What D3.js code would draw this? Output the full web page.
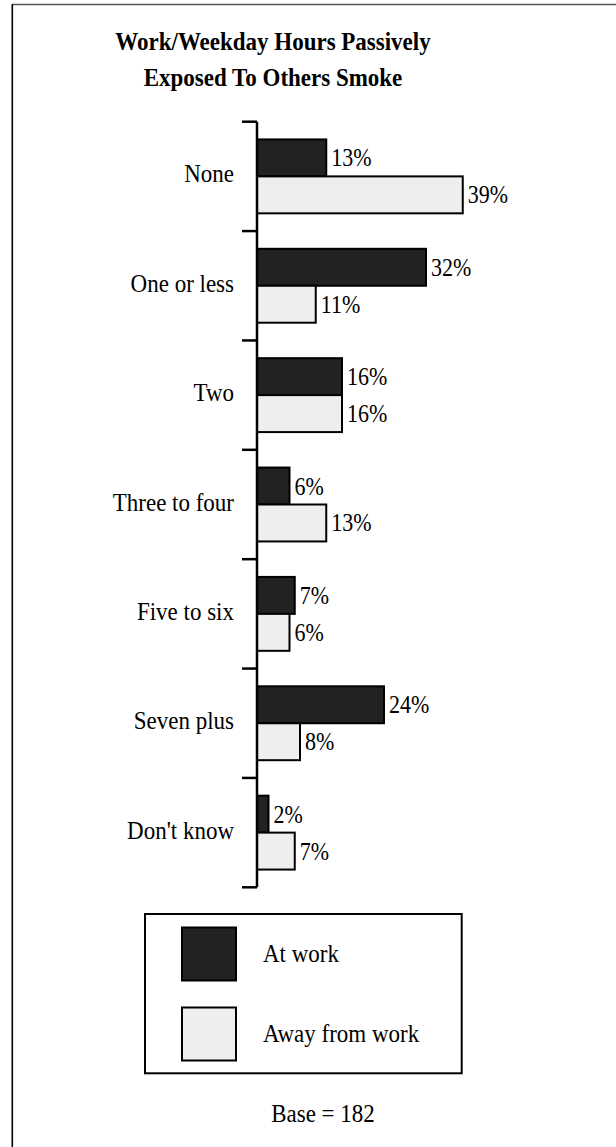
<!DOCTYPE html>
<html>
<head>
<meta charset="utf-8">
<script src="https://cdn.jsdelivr.net/npm/d3@7"></script>
<style>
  html, body { margin: 0; padding: 0; background: #fff; }
  svg { display: block; }
  text { font-family: "Liberation Serif", "Times New Roman", serif; fill: #000; }
</style>
</head>
<body>
<div id="chart"></div>
<script>
const titleLines = ["Work/Weekday Hours Passively", "Exposed To Others Smoke"];
const categories = ["None", "One or less", "Two", "Three to four", "Five to six", "Seven plus", "Don't know"];
const seriesNames = ["At work", "Away from work"];
const atWork = [13, 32, 16, 6, 7, 24, 2];
const awayFromWork = [39, 11, 16, 13, 6, 8, 7];
const baseNote = "Base = 182";

const colors = ["#222222", "#eeeeee"];
const W = 616, H = 1147;
const SY = 1.1; // slight vertical stretch of glyphs seen in the reference

const svg = d3.select("#chart").append("svg")
  .attr("width", W).attr("height", H);

// place a text at (x,y) with vertical stretch
function place(sel, fx, fy) {
  sel.attr("transform", (d, i) => `translate(${fx(d, i)},${fy(d, i)}) scale(1,${SY})`);
}

// frame (top and left edges visible)
svg.append("line").attr("x1", 12).attr("x2", W).attr("y1", 4.5).attr("y2", 4.5)
  .attr("stroke", "#555").attr("stroke-width", 1.5);
svg.append("line").attr("x1", 12.3).attr("x2", 12.3).attr("y1", 4).attr("y2", H)
  .attr("stroke", "#000").attr("stroke-width", 1.6);

// title
svg.append("g").selectAll("text").data(titleLines).join("text")
  .call(place, () => 273, (d, i) => 50 + i * 36)
  .attr("text-anchor", "middle")
  .attr("font-size", 23).attr("font-weight", "bold")
  .text(d => d);

const axisX = 257;
const y = d3.scaleBand().domain(categories).range([121.7, 887.3]).paddingInner(0).paddingOuter(0);
const ySub = d3.scaleBand().domain([0, 1]).range([0, y.bandwidth()]).paddingInner(0).paddingOuter(0.48);
const x = d3.scaleLinear().domain([0, 40]).range([258, 468]);

// bars
const rows = categories.map((c, i) => ({ cat: c, vals: [atWork[i], awayFromWork[i]] }));
const groups = svg.append("g").selectAll("g").data(rows).join("g")
  .attr("transform", d => `translate(0,${y(d.cat)})`);

groups.selectAll("rect").data(d => d.vals.map((v, k) => ({ v, k }))).join("rect")
  .attr("x", axisX)
  .attr("y", d => ySub(d.k))
  .attr("width", d => x(d.v) - axisX)
  .attr("height", ySub.bandwidth())
  .attr("fill", d => colors[d.k])
  .attr("stroke", "#000").attr("stroke-width", 2);

groups.selectAll("text.val").data(d => d.vals.map((v, k) => ({ v, k }))).join("text")
  .attr("class", "val")
  .call(place, d => x(d.v) + 5, d => ySub(d.k) + ySub.bandwidth() / 2 + 8.5)
  .attr("font-size", 22)
  .text(d => d.v + "%");

// axis
const axis = d3.axisLeft(y).tickSize(0).tickFormat("");
const axG = svg.append("g").attr("transform", `translate(${axisX},0)`).call(axis);
axG.select(".domain").remove();
axG.append("line").attr("x1", 0).attr("x2", 0).attr("y1", 121.7).attr("y2", 887.3)
  .attr("stroke", "#000").attr("stroke-width", 2.5);
const boundaries = categories.map(c => y(c)).concat([y.range()[1]]);
axG.selectAll("line.tk").data(boundaries).join("line").attr("class", "tk")
  .attr("x1", -15).attr("x2", 0).attr("y1", d => d).attr("y2", d => d)
  .attr("stroke", "#000").attr("stroke-width", 2.5);

// category labels
svg.append("g").selectAll("text").data(categories).join("text")
  .call(place, () => 234, d => y(d) + y.bandwidth() / 2 + 6)
  .attr("text-anchor", "end")
  .attr("font-size", 23)
  .text(d => d);

// legend
const lg = svg.append("g");
lg.append("rect").attr("x", 145).attr("y", 914).attr("width", 316.7).attr("height", 159.3)
  .attr("fill", "#fff").attr("stroke", "#000").attr("stroke-width", 2);
const lgItems = lg.selectAll("g").data(seriesNames).join("g")
  .attr("transform", (d, i) => `translate(0,${927.5 + i * 80})`);
lgItems.append("rect").attr("x", 182).attr("y", 0).attr("width", 54).attr("height", 53)
  .attr("fill", (d, i) => colors[i]).attr("stroke", "#000").attr("stroke-width", 2);
lgItems.append("text")
  .call(place, () => 263, () => 34.5)
  .attr("font-size", 23).text(d => d);

svg.append("text")
  .attr("transform", `translate(323,1122) scale(1,${SY})`)
  .attr("text-anchor", "middle")
  .attr("font-size", 23).text(baseNote);
</script>
</body>
</html>
